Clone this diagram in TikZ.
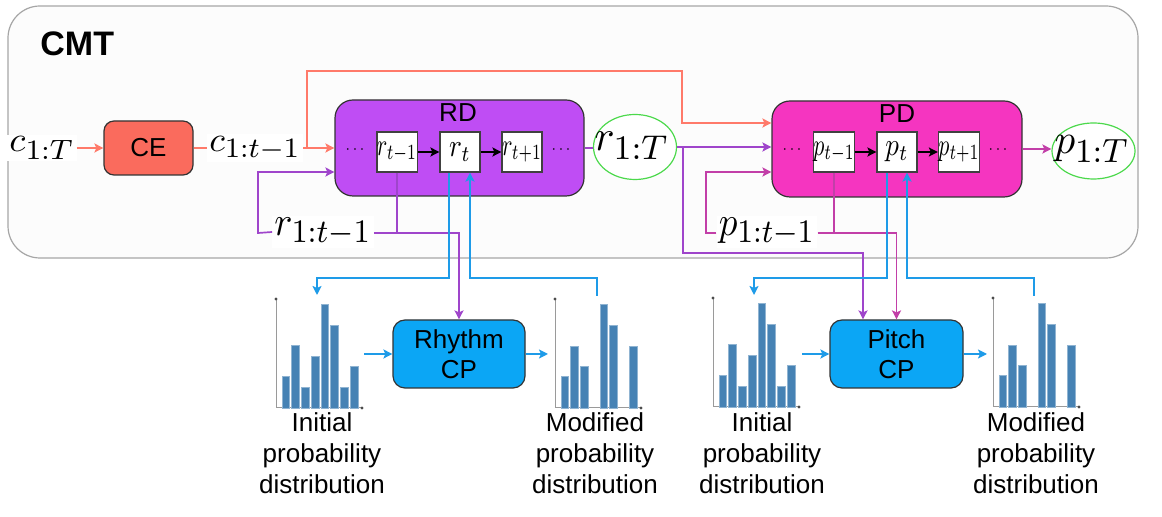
\documentclass[tikz,border=0pt]{standalone}
\usepackage{fontspec}
\usepackage{graphicx}
\usetikzlibrary{arrows.meta,calc,shapes.geometric}
\newfontfamily\arial{Liberation Sans}
\DeclareMathSizes{10}{10}{8.5}{7}
\definecolor{bgc}{HTML}{FCFCFC}
\definecolor{bgb}{HTML}{A6A6A6}
\definecolor{cecol}{HTML}{FA6B5D}
\definecolor{ocol}{HTML}{FF7A6A}
\definecolor{rdcol}{HTML}{BF4DF4}
\definecolor{pcol}{HTML}{9F45CB}
\definecolor{pdcol}{HTML}{F535C0}
\definecolor{mcol}{HTML}{C23FA8}
\definecolor{cpcol}{HTML}{0BA6F5}
\definecolor{bcol}{HTML}{1E9BE8}
\definecolor{barcol}{HTML}{4682B4}
\definecolor{gcol}{HTML}{4CD94C}
\definecolor{axcol}{HTML}{9A9A9A}
\newcommand{\ML}[3]{\scalebox{#1}[#2]{$#3$}}
\newcommand{\histo}[2]{%
  \begin{scope}[shift={#1}]
    \draw[axcol, line width=0.5pt] (0,-109) -- (0,0) -- (86,0);
    \fill[black!70] (0,-109) circle (0.8pt) (86,0) circle (0.8pt);
    \foreach \i/\h in {#2} \fill[barcol, draw=barcol!60!white, line width=0.3pt] ({6+9.75*\i},0) rectangle ++(7.7,-\h);
  \end{scope}}
\tikzset{
  conn/.style={line width=0.85pt},
  tip/.style={-{Stealth[length=4.5pt,width=4.5pt,inset=1pt]}},
  oline/.style={conn,draw=ocol},
  oarr/.style={oline,tip},
  pline/.style={conn,draw=pcol},
  parr/.style={pline,tip},
  mline/.style={conn,draw=mcol},
  marr/.style={mline,tip},
  bline/.style={conn,draw=bcol},
  barr/.style={bline,tip},
  sfbox/.style={draw=black!80, line width=0.6pt, rounded corners=5pt, inner sep=0pt,
     font=\arial\fontsize{13}{15}\selectfont, align=center},
  smallbox/.style={draw=black!75, fill=white, line width=0.6pt, minimum width=20pt,
     minimum height=20pt, inner sep=0pt},
  ml/.style={fill=white, inner sep=1pt},
  ell/.style={ellipse, draw=gcol, line width=0.6pt, fill=white, inner sep=0pt},
  dist/.style={font=\arial\fontsize{13}{15.5}\selectfont, align=center, inner sep=0pt, anchor=north},
  dots/.style={inner sep=0pt},
}
\begin{document}
\begin{tikzpicture}[x=0.5pt,y=-0.5pt]
\useasboundingbox (0,0) rectangle (1162,517);
% outer CMT frame
\draw[fill=bgc, draw=bgb, line width=0.6pt, rounded corners=16pt] (8,6) rectangle (1138,258);
\node[anchor=west, inner sep=0pt, font=\arial\bfseries\fontsize{17}{20}\selectfont] (cmt) at (40,44) {CMT};

% CE
\node[sfbox, fill=cecol, minimum width=44.5pt, minimum height=27pt] (ce) at (148.5,148) {CE};
\node[ml] (c1T) at (42,148) {\ML{1.85}{1.75}{c_{1:T}}};
\node[ml] (c1t1) at (255,148) {\ML{1.8}{1.75}{c_{1:t-1}}};

% RD
\node[sfbox, fill=rdcol, rounded corners=9pt, minimum width=124.5pt, minimum height=48pt] (rd) at (459.5,148) {};
\node[inner sep=0pt, font=\arial\fontsize{13}{15}\selectfont] (rdl) at (458,113) {RD};
\node[smallbox] (rt1) at (397,152) {\ML{1.1}{1.55}{r_{\scriptscriptstyle t-1}}};
\node[smallbox] (rt) at (460,152) {\ML{1.35}{1.6}{r_{\scriptscriptstyle t}}};
\node[smallbox] (rt2) at (522,152) {\ML{1.1}{1.55}{r_{\scriptscriptstyle t+1}}};
\node[dots] (rdd1) at (355,150) {\scalebox{0.8}{$\cdots$}};
\node[dots] (rdd2) at (561,150) {\scalebox{0.8}{$\cdots$}};
\node[ml] (r1t1) at (323,232) {\ML{1.9}{2.05}{r_{1:t-1}}};
\node[ell, minimum width=41.5pt, minimum height=32.5pt] (r1T) at (635,147) {};
\node[inner sep=0pt] (r1Tl) at (632,146) {\ML{2.1}{2.15}{r_{1:T}}};

% PD
\node[sfbox, fill=pdcol, rounded corners=9pt, minimum width=125pt, minimum height=48pt] (pd) at (897,149) {};
\node[inner sep=0pt, font=\arial\fontsize{13}{15}\selectfont] (pdl) at (897,114) {PD};
\node[smallbox] (pt1) at (834,152) {\ML{1.1}{1.55}{p_{\scriptscriptstyle t-1}}};
\node[smallbox] (pt) at (897,152) {\ML{1.35}{1.6}{p_{\scriptscriptstyle t}}};
\node[smallbox] (pt2) at (959,152) {\ML{1.1}{1.55}{p_{\scriptscriptstyle t+1}}};
\node[dots] (pdd1) at (792,150) {\scalebox{0.8}{$\cdots$}};
\node[dots] (pdd2) at (998,150) {\scalebox{0.8}{$\cdots$}};
\node[ml] (p1t1) at (767,232) {\ML{1.85}{2.05}{p_{1:t-1}}};
\node[ell, minimum width=41.5pt, minimum height=28pt] (p1T) at (1093.5,151) {};
\node[inner sep=0pt] (p1Tl) at (1092,149) {\ML{2.05}{2.1}{p_{1:T}}};

% CP boxes
\node[sfbox, fill=cpcol, rounded corners=6pt, minimum width=66pt, minimum height=34pt] (rcp) at (459,354) {Rhythm\\CP};
\node[sfbox, fill=cpcol, rounded corners=6pt, minimum width=66.5pt, minimum height=34pt] (pcp) at (896.5,354) {Pitch\\CP};

% histograms
\histo{(276,408)}{0/31.3,1/62.3,2/21,3/52,4/104,5/83,6/21,7/41.3}
\histo{(555,408)}{0/31.3,1/62,2/41.3,4/103.7,5/82.7,7/62}
\histo{(713,407)}{0/31.3,1/62.3,2/21,3/52,4/104,5/83,6/21,7/41.3}
\histo{(993,407)}{0/31.3,1/62,2/41.3,4/103.7,5/82.7,7/62}
\node[dist] (d1) at (322,412) {Initial\\probability\\distribution};
\node[dist] (d2) at (595,412) {Modified\\probability\\distribution};
\node[dist] (d3) at (762,412) {Initial\\probability\\distribution};
\node[dist] (d4) at (1036,412) {Modified\\probability\\distribution};

% coordinates
\coordinate (ob) at (307,148);
\coordinate (ot) at (307,71);
\coordinate (otr) at (682,123);
\coordinate (rL) at (258,233);
\coordinate (rB) at (683,147);
\coordinate (rB2) at (683,253);
\coordinate (pL) at (706,233);
\coordinate (h1a) at (317,295);
\coordinate (h1b) at (317,278);
\coordinate (h2a) at (597,296);
\coordinate (h2b) at (597,278);
\coordinate (h3a) at (754,295);
\coordinate (h3b) at (754,278);
\coordinate (h4a) at (1034,296);
\coordinate (h4b) at (1034,278);
\coordinate (hr1) at (364,354);
\coordinate (hr2) at (548,354);
\coordinate (hp1) at (802,354);
\coordinate (hp2) at (987,354);

% orange connectors
\draw[oarr] (c1T) -- (ce);
\draw[oline] (ce) -- (c1t1);
\draw[oarr] (c1t1.east) -- (rd.west);
\draw[oarr] (ob) -- (ot) -| (otr) -- ($(pd.west)+(0,-26)$);

% small chain arrows
\draw[line width=0.85pt, tip] (rt1) -- (rt);
\draw[line width=0.85pt, tip] (rt) -- (rt2);
\draw[line width=0.85pt, tip] (pt1) -- (pt);
\draw[line width=0.85pt, tip] (pt) -- (pt2);

% purple (rhythm)
\draw[parr] (r1t1.west) -- (rL) |- ($(rd.west)+(0,24)$);
\draw[pline] (rt1.south) -- (rt1.south |- rL);
\draw[parr] (rL -| r1t1.east) -| (rcp.north);
\draw[pline] (rd.east) -- (rd.east -| r1T.west);
\draw[parr] (r1T.east) -- (r1T.east -| pd.west);
\draw[parr] (rB) -- (rB2) -| ($(pcp.north)+(-33.5,0)$);

% magenta (pitch)
\draw[marr] (p1t1.west |- pL) -- (pL) |- ($(pd.west)+(0,23)$);
\draw[mline] (pt1.south) -- (pt1.south |- pL);
\draw[marr] (pL -| p1t1.east) -| (pcp.north);
\draw[marr] (pd.east) -- (pd.east -| p1T.west);

% blue
\draw[barr] ($(rt.south)+(-11,0)$) |- (h1b) -- (h1a);
\draw[barr] (h2a) -- (h2b) -| ($(rt.south)+(10,0)$);
\draw[barr] (hr1) -- (rcp.west);
\draw[barr] (rcp.east) -- (hr2);
\draw[barr] ($(pt.south)+(-10,0)$) |- (h3b) -- (h3a);
\draw[barr] (h4a) -- (h4b) -| ($(pt.south)+(10,0)$);
\draw[barr] (hp1) -- (pcp.west);
\draw[barr] (pcp.east) -- (hp2);
\end{tikzpicture}
\end{document}
